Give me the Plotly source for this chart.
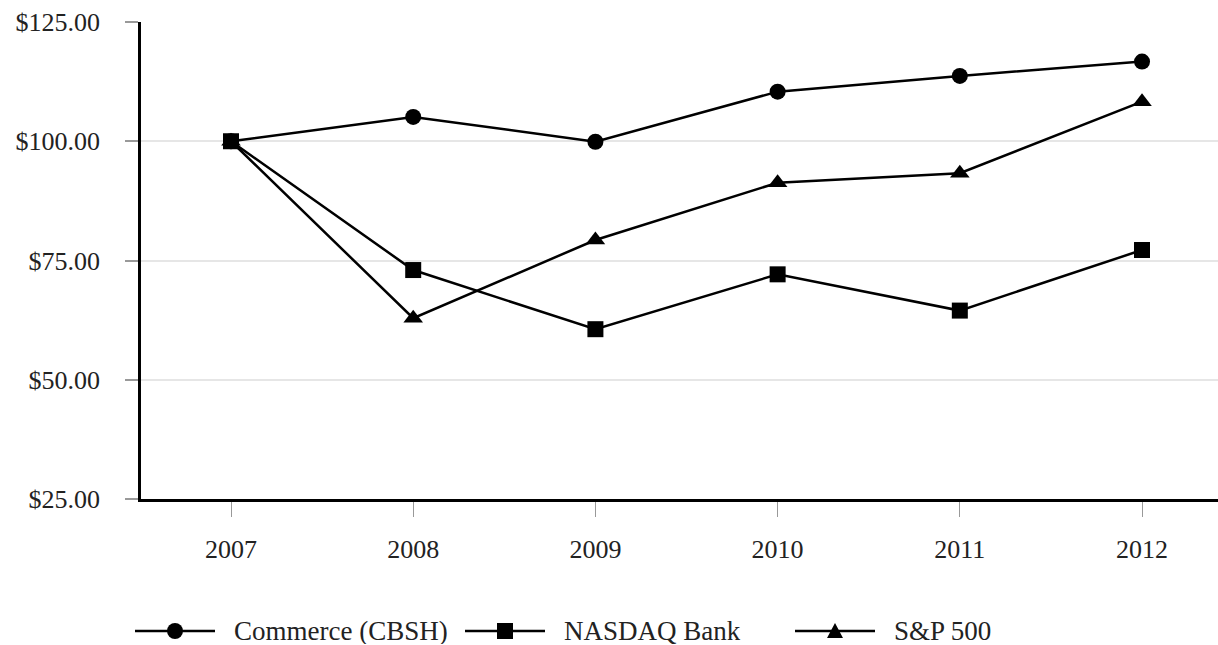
import plotly.graph_objects as go

# Cumulative value of a $100 investment, 2007-2012
years = [2007, 2008, 2009, 2010, 2011, 2012]
series_names = ["Commerce (CBSH)", "NASDAQ Bank", "S&P 500"]
commerce = [100.0, 105.1, 99.9, 110.4, 113.7, 116.7]
nasdaq_bank = [100.0, 73.0, 60.6, 72.1, 64.5, 77.2]
sp500 = [100.0, 62.9, 79.3, 91.3, 93.3, 108.3]
y_ticks = [25, 50, 75, 100, 125]
y_tick_labels = ["$25.00", "$50.00", "$75.00", "$100.00", "$125.00"]

symbols = ["circle", "square", "triangle-up"]
values = [commerce, nasdaq_bank, sp500]

FONT = "Liberation Serif"
W, H = 1218, 645
L, R, T, B = 141, 0, 22, 146
plot_w = W - L - R
plot_h = H - T - B

fig = go.Figure()
for name, vals, sym in zip(series_names, values, symbols):
    fig.add_trace(go.Scatter(
        x=years, y=vals, name=name, mode="lines+markers",
        line=dict(color="black", width=2.5),
        marker=dict(symbol=sym, size=16 if sym != "triangle-up" else 17,
                    color="black"),
        showlegend=False,
    ))

# Hand-laid legend row under the plot: line + marker, then label
def px_x(px):
    return (px - L) / plot_w

def px_y(py):
    return (H - B - py) / plot_h

shapes = []
annotations = []
legend_y = 631
legend_x0 = [135, 465, 795]
for name, sym, x0 in zip(series_names, symbols, legend_x0):
    shapes.append(dict(type="line", xref="paper", yref="paper",
                       x0=px_x(x0), x1=px_x(x0 + 80),
                       y0=px_y(legend_y), y1=px_y(legend_y),
                       line=dict(color="black", width=2.5)))
    cx, cy = px_x(x0 + 40), px_y(legend_y)
    if sym == "circle":
        shapes.append(dict(type="circle", xref="paper", yref="paper",
                           xsizemode="pixel", ysizemode="pixel",
                           xanchor=cx, yanchor=cy,
                           x0=-8, x1=8, y0=-8, y1=8,
                           fillcolor="black", line=dict(width=0)))
    elif sym == "square":
        shapes.append(dict(type="rect", xref="paper", yref="paper",
                           xsizemode="pixel", ysizemode="pixel",
                           xanchor=cx, yanchor=cy,
                           x0=-8, x1=8, y0=-8, y1=8,
                           fillcolor="black", line=dict(width=0)))
    else:
        shapes.append(dict(type="path", xref="paper", yref="paper",
                           xsizemode="pixel", ysizemode="pixel",
                           xanchor=cx, yanchor=cy,
                           path="M -8 -7 L 8 -7 L 0 8 Z",
                           fillcolor="black", line=dict(width=0)))
    annotations.append(dict(text=name, xref="paper", yref="paper",
                            x=px_x(x0 + 98), y=px_y(legend_y),
                            xanchor="left", yanchor="middle",
                            showarrow=False, height=26, borderpad=0,
                            font=dict(family=FONT, size=27, color="#222")))

fig.update_layout(
    width=W, height=H,
    margin=dict(l=L, r=R, t=T, b=B, pad=0),
    paper_bgcolor="white", plot_bgcolor="white",
    font=dict(family=FONT, size=26, color="#222"),
    shapes=shapes, annotations=annotations,
    showlegend=False,
)
fig.update_xaxes(
    range=[2006.506, 2012.417],
    tickvals=years, ticktext=[str(y) for y in years],
    showgrid=False, zeroline=False,
    showline=True, linecolor="black", linewidth=2.5,
    ticks="outside", ticklen=15, tickwidth=1, tickcolor="#999",
    ticklabelstandoff=10,
)
fig.update_yaxes(
    range=[25, 125],
    tickvals=y_ticks, ticktext=y_tick_labels,
    showgrid=True, gridcolor="#e6e6e6", gridwidth=1.5,
    zeroline=False,
    showline=True, linecolor="black", linewidth=2.5,
    ticks="outside", ticklen=13, tickwidth=1.5, tickcolor="#999",
    ticklabelstandoff=20,
)

fig.write_html("out.html")
